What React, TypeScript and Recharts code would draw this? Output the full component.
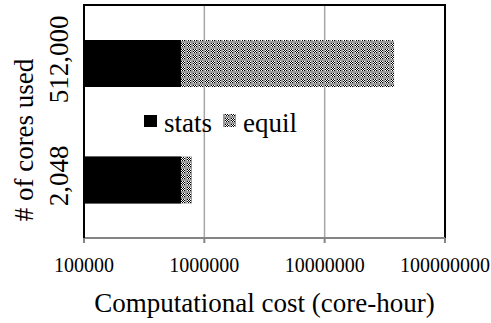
import {
  BarChart, Bar, XAxis, YAxis, CartesianGrid, Legend, ReferenceArea,
} from 'recharts';

const categories = ['512,000', '2,048'];
const statsHours = [640000, 640000];
const equilHours = [37100000, 150000];
const xTicks = [100000, 1000000, 10000000, 100000000];

const data = categories.map((c, i) => ({
  cores: c,
  stats: statsHours[i],
  total: statsHours[i] + equilHours[i],
}));

const FONT = '"Liberation Serif", "Times New Roman", serif';

// small checker tile, roughly what the picture shows for "equil"
function Checker({ id }: { id: string }) {
  const cells = [];
  for (let r = 0; r < 4; r++) {
    for (let c = 0; c < 4; c++) {
      cells.push(
        <rect key={`${r}-${c}`} x={1 + c} y={1 + r} width={1} height={1}
          fill={(r + c) % 2 === 0 ? '#000' : '#fff'} />,
      );
    }
  }
  return (
    <pattern id={id} width="6" height="6" patternUnits="userSpaceOnUse">
      <rect width="6" height="6" fill="#9a9a9a" />
      {cells}
    </pattern>
  );
}

function LegendBox() {
  return (
    <svg width={200} height={35} style={{ fontFamily: FONT }}>
      <defs><Checker id="legendChecker" /></defs>
      <rect x={4} y={10} width={13} height={12} fill="#000" />
      <text x={24} y={27} fontSize={27} fill="#000">stats</text>
      <rect x={83} y={9} width={13} height={13} fill="url(#legendChecker)" />
      <text x={103} y={27} fontSize={27} fill="#000">equil</text>
    </svg>
  );
}

function CoreTick({ y, payload }: any) {
  const cy = y - 4;
  return (
    <text
      x={68} y={cy} transform={`rotate(-90, 68, ${cy})`}
      textAnchor="middle" fontSize={27} fontFamily={FONT} fill="#000"
    >
      {payload.value}
    </text>
  );
}

export default function App() {
  return (
    <div style={{ width: 491, height: 323, background: '#fff' }}>
      <style>{'body{margin:0}'}</style>
      <BarChart
        width={491} height={323} data={data} layout="vertical"
        margin={{ top: 5, right: 46, left: 0, bottom: 0 }}
        barGap={-47}
        style={{ fontFamily: FONT }}
      >
        <defs><Checker id="equilChecker" /></defs>
        <CartesianGrid horizontal={false} stroke="#a6a6a6" strokeWidth={1.5} />
        <XAxis
          type="number" scale="log" domain={[100000, 100000000]} ticks={xTicks}
          allowDataOverflow interval={0} height={85}
          stroke="#858585" strokeWidth={2} tickSize={5} tickMargin={15}
          tick={{ fontSize: 20, fill: '#000', fontFamily: FONT }}
          label={{
            content: ({ viewBox }: any) => (
              <text
                x={viewBox.x + viewBox.width / 2} y={viewBox.y + 74}
                textAnchor="middle" fontSize={27} fontFamily={FONT} fill="#000"
              >
                Computational cost (core-hour)
              </text>
            ),
          }}
        />
        <YAxis
          type="category" dataKey="cores" width={84}
          axisLine={{ stroke: '#000', strokeWidth: 2 }} tickLine={false}
          tick={<CoreTick />}
          label={{
            content: () => (
              <text
                x={33} y={140} transform="rotate(-90, 33, 140)"
                textAnchor="middle" fontSize={27} fontFamily={FONT} fill="#000"
              >
                # of cores used
              </text>
            ),
          }}
        />
        <ReferenceArea
          x1={100000} x2={100000000} fill="none" stroke="#000" strokeWidth={2}
          fillOpacity={0} ifOverflow="visible"
        />
        <Bar dataKey="total" name="equil" fill="url(#equilChecker)" barSize={47} isAnimationActive={false} />
        <Bar dataKey="stats" name="stats" fill="#000" barSize={47} isAnimationActive={false} />
        <Legend
          layout="horizontal" verticalAlign="middle" align="center"
          wrapperStyle={{ position: 'absolute', left: 140, top: 105, width: 200, height: 35 }}
          content={() => <LegendBox />}
        />
      </BarChart>
    </div>
  );
}
